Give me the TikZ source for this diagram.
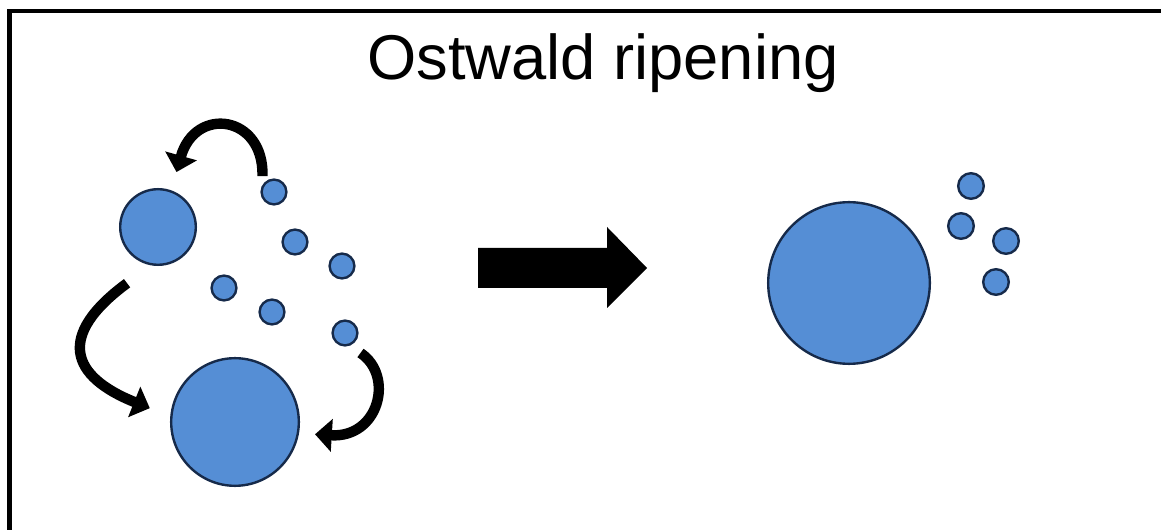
\documentclass[tikz,border=0pt]{standalone}
\usepackage{fontspec}
\setmainfont{Liberation Sans}
\usetikzlibrary{arrows.meta}
\definecolor{dropfill}{RGB}{85,142,213}
\definecolor{dropline}{RGB}{22,42,74}

\begin{document}
\begin{tikzpicture}[x=0.025cm,y=0.025cm,
    drop/.style={circle,draw=dropline,fill=dropfill,line width=0.06cm,inner sep=0pt},
    tiny/.style={drop,minimum size=0.62cm},
    hop/.style={line width=0.26cm,-{Triangle[width=0.8cm,length=0.42cm]}}]
  \useasboundingbox (0,0) rectangle (1161,530);
  \draw[line width=0.1cm] (9.5,0) |- (1161,519);
  \node[font=\fontsize{45}{54}\selectfont,anchor=base] (title) at (603,450) {Ostwald ripening};

  % before: droplets of mixed size
  \begin{scope}
    \node[drop,minimum size=1.89cm] (m) at (158,303) {};
    \node[drop,minimum size=3.19cm] (b) at (235,108) {};
    \node[tiny] (s1) at (274,338) {};
    \node[tiny] (s2) at (295,288) {};
    \node[tiny] (s3) at (342,264) {};
    \node[tiny] (s4) at (224,242) {};
    \node[tiny] (s5) at (272,218) {};
    \node[tiny] (s6) at (345,197) {};
    \draw[hop,shorten <=0.225cm,shorten >=0.475cm] (s1.150) .. controls +(2,70) and +(24,85) .. (m.70);
    \draw[hop,shorten <=0.75cm,shorten >=0.55cm] (m.260) .. controls +(-95,-70) and +(-100,40) .. (b.175);
    \draw[hop,shorten <=0.325cm,shorten >=0.4cm] (s6.290) .. controls +(45,-30) and +(80,-5) .. (b.350);
  \end{scope}

  \fill (478,242) -- (607,242) -- (607,222) -- (647,262) -- (607,303) -- (607,282) -- (478,282) -- cycle;

  % after: one large droplet left
  \begin{scope}
    \node[drop,minimum size=4.04cm] (B) at (849,247) {};
    \node[tiny,minimum size=0.64cm] (t1) at (971,344) {};
    \node[tiny,minimum size=0.64cm] (t2) at (961,304) {};
    \node[tiny,minimum size=0.64cm] (t3) at (1006,289) {};
    \node[tiny,minimum size=0.64cm] (t4) at (996,248) {};
  \end{scope}
\end{tikzpicture}
\end{document}
